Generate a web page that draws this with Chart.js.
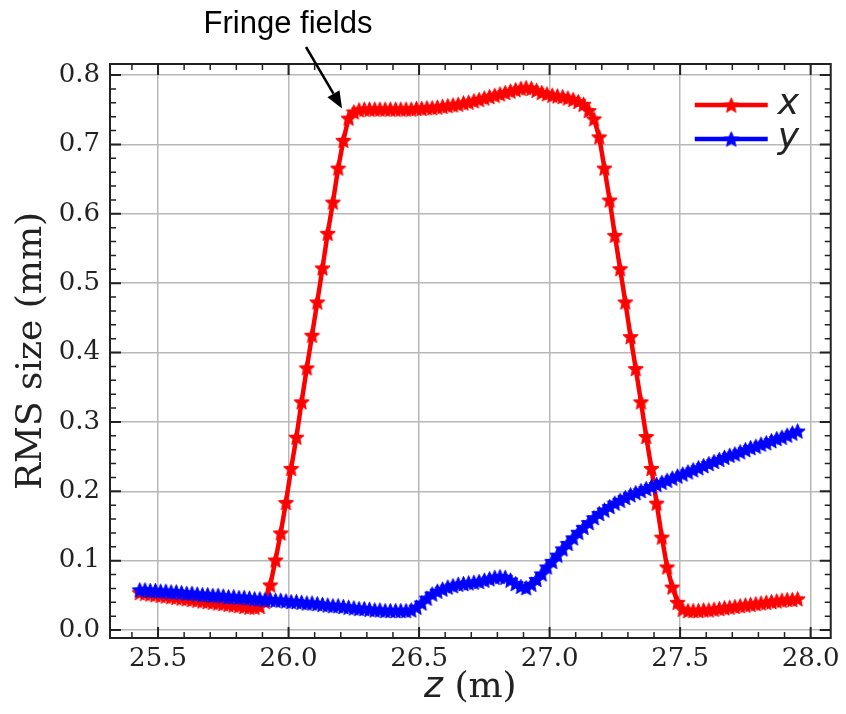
<!DOCTYPE html>
<html>
<head>
<meta charset="utf-8">
<script src="https://cdn.jsdelivr.net/npm/chart.js@4.4.1/dist/chart.umd.min.js"></script>
<style>
  html, body { margin: 0; padding: 0; background: #fff; }
  #wrap { width: 846px; height: 714px; }
</style>
</head>
<body>
<div id="wrap"><canvas id="rmsChart" width="846" height="714"></canvas></div>
<script>
// z positions along the beamline (m)
const zValues = [
    25.43, 25.45, 25.47, 25.49, 25.51, 25.53, 25.55, 25.57, 25.59, 25.61,
    25.63, 25.65, 25.67, 25.69, 25.71, 25.73, 25.75, 25.77, 25.79, 25.81,
    25.83, 25.85, 25.87, 25.89, 25.91, 25.93, 25.95, 25.97, 25.99, 26.01,
    26.03, 26.05, 26.07, 26.09, 26.11, 26.13, 26.15, 26.17, 26.19, 26.21,
    26.23, 26.25, 26.27, 26.29, 26.31, 26.33, 26.35, 26.37, 26.39, 26.41,
    26.43, 26.45, 26.47, 26.49, 26.51, 26.53, 26.55, 26.57, 26.59, 26.61,
    26.63, 26.65, 26.67, 26.69, 26.71, 26.73, 26.75, 26.77, 26.79, 26.81,
    26.83, 26.85, 26.87, 26.89, 26.91, 26.93, 26.95, 26.97, 26.99, 27.01,
    27.03, 27.05, 27.07, 27.09, 27.11, 27.13, 27.15, 27.17, 27.19, 27.21,
    27.23, 27.25, 27.27, 27.29, 27.31, 27.33, 27.35, 27.37, 27.39, 27.41,
    27.43, 27.45, 27.47, 27.49, 27.51, 27.53, 27.55, 27.57, 27.59, 27.61,
    27.63, 27.65, 27.67, 27.69, 27.71, 27.73, 27.75, 27.77, 27.79, 27.81,
    27.83, 27.85, 27.87, 27.89, 27.91, 27.93, 27.95
];

// RMS size in x (mm)
const xSize = [
    0.054, 0.053, 0.052, 0.051, 0.050, 0.049, 0.048, 0.047, 0.046, 0.045,
    0.044, 0.043, 0.042, 0.041, 0.040, 0.039, 0.038, 0.037, 0.036, 0.035,
    0.034, 0.033, 0.033, 0.034, 0.041, 0.065, 0.101, 0.140, 0.184, 0.233,
    0.278, 0.329, 0.378, 0.425, 0.473, 0.522, 0.572, 0.617, 0.666, 0.706,
    0.738, 0.747, 0.750, 0.751, 0.751, 0.751, 0.751, 0.751, 0.751, 0.751,
    0.751, 0.751, 0.751, 0.752, 0.752, 0.753, 0.753, 0.754, 0.755, 0.756,
    0.757, 0.758, 0.760, 0.761, 0.763, 0.765, 0.767, 0.769, 0.771, 0.773,
    0.775, 0.777, 0.779, 0.781, 0.782, 0.781, 0.778, 0.775, 0.773, 0.771,
    0.770, 0.769, 0.767, 0.765, 0.762, 0.758, 0.749, 0.737, 0.711, 0.666,
    0.620, 0.569, 0.521, 0.473, 0.423, 0.377, 0.329, 0.279, 0.233, 0.183,
    0.134, 0.091, 0.062, 0.040, 0.030, 0.028, 0.028, 0.028, 0.029, 0.029,
    0.030, 0.031, 0.032, 0.033, 0.034, 0.035, 0.036, 0.037, 0.038, 0.039,
    0.040, 0.041, 0.042, 0.043, 0.044, 0.044, 0.045
];

// RMS size in y (mm)
const ySize = [
    0.058, 0.058, 0.057, 0.057, 0.056, 0.056, 0.055, 0.055, 0.054, 0.053,
    0.053, 0.052, 0.051, 0.051, 0.050, 0.050, 0.049, 0.048, 0.048, 0.047,
    0.047, 0.046, 0.045, 0.045, 0.044, 0.044, 0.043, 0.043, 0.042, 0.041,
    0.041, 0.040, 0.039, 0.039, 0.038, 0.037, 0.036, 0.035, 0.035, 0.034,
    0.033, 0.032, 0.031, 0.031, 0.030, 0.029, 0.029, 0.028, 0.028, 0.028,
    0.028, 0.028, 0.029, 0.033, 0.039, 0.046, 0.052, 0.056, 0.059, 0.062,
    0.064, 0.066, 0.067, 0.068, 0.069, 0.070, 0.072, 0.074, 0.076, 0.077,
    0.076, 0.072, 0.067, 0.063, 0.061, 0.066, 0.073, 0.081, 0.091, 0.099,
    0.108, 0.117, 0.125, 0.133, 0.141, 0.148, 0.155, 0.162, 0.168, 0.173,
    0.178, 0.183, 0.187, 0.191, 0.195, 0.198, 0.201, 0.204, 0.207, 0.210,
    0.213, 0.216, 0.219, 0.222, 0.225, 0.228, 0.231, 0.234, 0.237, 0.240,
    0.243, 0.246, 0.249, 0.252, 0.254, 0.257, 0.260, 0.263, 0.265, 0.268,
    0.270, 0.273, 0.276, 0.278, 0.281, 0.284, 0.287
];

const xTickLabels = [25.5, 26.0, 26.5, 27.0, 27.5, 28.0];
const yTickLabels = [0.0, 0.1, 0.2, 0.3, 0.4, 0.5, 0.6, 0.7, 0.8];

const RED = '#ff0000';
const BLUE = '#0000ff';
const INK = '#222222';
const STAR = 17;

// filled five-point star, like matplotlib's '*' marker
const makeStar = (color, size) => {
    const c = document.createElement('canvas');
    c.width = size;
    c.height = size;
    const g = c.getContext('2d');
    const r = size / 2 - 0.5;
    const ri = r * 0.45;
    g.beginPath();
    for (let i = 0; i < 10; i++) {
        const a = -Math.PI / 2 + i * Math.PI / 5;
        const rr = i % 2 ? ri : r;
        g.lineTo(size / 2 + rr * Math.cos(a), size / 2 + 0.8 + rr * Math.sin(a));
    }
    g.closePath();
    g.fillStyle = color;
    g.fill();
    g.strokeStyle = color;
    g.lineWidth = 1;
    g.stroke();
    return c;
};

const redStar = makeStar(RED, STAR);
const blueStar = makeStar(BLUE, STAR);

const toPoints = (vals) => zValues.map((z, i) => ({ x: z, y: vals[i] }));

// frame with inward major/minor ticks on all four sides
const frameTicks = {
    id: 'frameTicks',
    afterDatasetsDraw(chart) {
        const { ctx, chartArea: a, scales } = chart;
        const xs = scales.x, ys = scales.y;
        ctx.save();
        ctx.strokeStyle = INK;

        const tick = (len, width, xVals, yVals) => {
            ctx.lineWidth = width;
            ctx.beginPath();
            xVals.forEach(v => {
                const px = xs.getPixelForValue(v);
                if (px < a.left + 1 || px > a.right - 1) return;
                ctx.moveTo(px, a.bottom); ctx.lineTo(px, a.bottom - len);
                ctx.moveTo(px, a.top); ctx.lineTo(px, a.top + len);
            });
            yVals.forEach(v => {
                const py = ys.getPixelForValue(v);
                if (py < a.top + 1 || py > a.bottom - 1) return;
                ctx.moveTo(a.left, py); ctx.lineTo(a.left + len, py);
                ctx.moveTo(a.right, py); ctx.lineTo(a.right - len, py);
            });
            ctx.stroke();
        };

        const xMinor = [], yMinor = [];
        for (let k = 254; k <= 280; k++) {
            if (k % 5 !== 0) xMinor.push(k / 10);
        }
        for (let k = 0; k <= 40; k++) {
            if (k % 5 !== 0) yMinor.push(k / 50);
        }
        tick(6, 1.5, xMinor, yMinor);
        tick(11, 2, xTickLabels, yTickLabels);

        ctx.lineWidth = 2;
        ctx.strokeRect(a.left, a.top, a.right - a.left, a.bottom - a.top);
        ctx.restore();
    }
};

// legend, annotation and x-axis title
const extras = {
    id: 'extras',
    afterDraw(chart) {
        const { ctx, chartArea: a, scales } = chart;
        ctx.save();

        // legend
        const entries = [
            { label: 'x', color: RED, star: redStar, y: a.top + 41 },
            { label: 'y', color: BLUE, star: blueStar, y: a.top + 75 }
        ];
        const lx0 = a.right - 136, lx1 = a.right - 63;
        entries.forEach(e => {
            ctx.strokeStyle = e.color;
            ctx.lineWidth = 4.5;
            ctx.beginPath();
            ctx.moveTo(lx0, e.y);
            ctx.lineTo(lx1, e.y);
            ctx.stroke();
            ctx.drawImage(e.star, (lx0 + lx1) / 2 - STAR / 2, e.y - STAR / 2);
            ctx.fillStyle = INK;
            ctx.font = 'italic 36px "DejaVu Sans"';
            ctx.textAlign = 'left';
            ctx.textBaseline = 'middle';
            ctx.fillText(e.label, a.right - 53, e.y);
        });

        // "Fringe fields" note with arrow
        ctx.fillStyle = '#000';
        ctx.font = '31px "Liberation Sans", Arial, sans-serif';
        ctx.textAlign = 'center';
        ctx.textBaseline = 'alphabetic';
        ctx.fillText('Fringe fields', 288, 33);

        const tx = scales.x.getPixelForValue(26.205);
        const ty = scales.y.getPixelForValue(0.752);
        const sx = 306, sy = 47;
        const ang = Math.atan2(ty - sy, tx - sx);
        const headLen = 17, headW = 7;
        const bx = tx - headLen * Math.cos(ang), by = ty - headLen * Math.sin(ang);
        ctx.strokeStyle = '#000';
        ctx.lineWidth = 2.5;
        ctx.beginPath();
        ctx.moveTo(sx, sy);
        ctx.lineTo(bx, by);
        ctx.stroke();
        ctx.beginPath();
        ctx.moveTo(tx, ty);
        ctx.lineTo(bx + headW * Math.sin(ang), by - headW * Math.cos(ang));
        ctx.lineTo(bx - headW * Math.sin(ang), by + headW * Math.cos(ang));
        ctx.closePath();
        ctx.fill();

        // x-axis title: italic z plus (m)
        ctx.fillStyle = INK;
        ctx.textBaseline = 'alphabetic';
        ctx.textAlign = 'left';
        ctx.font = 'italic 36px "DejaVu Sans"';
        const zW = ctx.measureText('z').width;
        ctx.font = '36px "DejaVu Serif"';
        const mW = ctx.measureText(' (m)').width;
        const cx = (a.left + a.right) / 2;
        const startX = cx - (zW + mW) / 2;
        ctx.font = 'italic 36px "DejaVu Sans"';
        ctx.fillText('z', startX, 697);
        ctx.font = '36px "DejaVu Serif"';
        ctx.fillText(' (m)', startX + zW, 697);

        ctx.restore();
    }
};

document.addEventListener('DOMContentLoaded', function() {
    const ctx = document.getElementById('rmsChart').getContext('2d');
    new Chart(ctx, {
        type: 'scatter',
        data: {
            datasets: [
                {
                    label: 'x',
                    data: toPoints(xSize),
                    showLine: true,
                    borderColor: RED,
                    backgroundColor: RED,
                    borderWidth: 4.5,
                    pointStyle: redStar,
                    pointRadius: STAR / 2,
                    tension: 0,
                    order: 1
                },
                {
                    label: 'y',
                    data: toPoints(ySize),
                    showLine: true,
                    borderColor: BLUE,
                    backgroundColor: BLUE,
                    borderWidth: 4.5,
                    pointStyle: blueStar,
                    pointRadius: STAR / 2,
                    tension: 0,
                    order: 0
                }
            ]
        },
        options: {
            responsive: false,
            animation: false,
            layout: { padding: { left: 0, top: 64, right: 15, bottom: 0 } },
            plugins: {
                legend: { display: false },
                tooltip: { enabled: false }
            },
            scales: {
                x: {
                    type: 'linear',
                    min: 25.316,
                    max: 28.077,
                    afterBuildTicks: (scale) => {
                        scale.ticks = xTickLabels.map(v => ({ value: v }));
                    },
                    afterFit: (scale) => { scale.height = 76; },
                    ticks: {
                        callback: (v) => Number(v).toFixed(1),
                        font: { family: 'DejaVu Serif', size: 26 },
                        color: INK,
                        padding: 6,
                        maxRotation: 0
                    },
                    grid: { color: '#b8b8b8', lineWidth: 1.5, drawTicks: false },
                    border: { display: false },
                    title: { display: false }
                },
                y: {
                    type: 'linear',
                    min: -0.0115,
                    max: 0.816,
                    afterBuildTicks: (scale) => {
                        scale.ticks = yTickLabels.map(v => ({ value: v }));
                    },
                    afterFit: (scale) => { scale.width = 110; },
                    ticks: {
                        callback: (v) => Number(v).toFixed(1),
                        font: { family: 'DejaVu Serif', size: 26 },
                        color: INK,
                        padding: 10
                    },
                    grid: { color: '#b8b8b8', lineWidth: 1.5, drawTicks: false },
                    border: { display: false },
                    title: {
                        display: true,
                        text: 'RMS size (mm)',
                        font: { family: 'DejaVu Serif', size: 36 },
                        color: INK,
                        padding: { top: 10, bottom: 0 }
                    }
                }
            }
        },
        plugins: [frameTicks, extras]
    });
});
</script>
</body>
</html>
